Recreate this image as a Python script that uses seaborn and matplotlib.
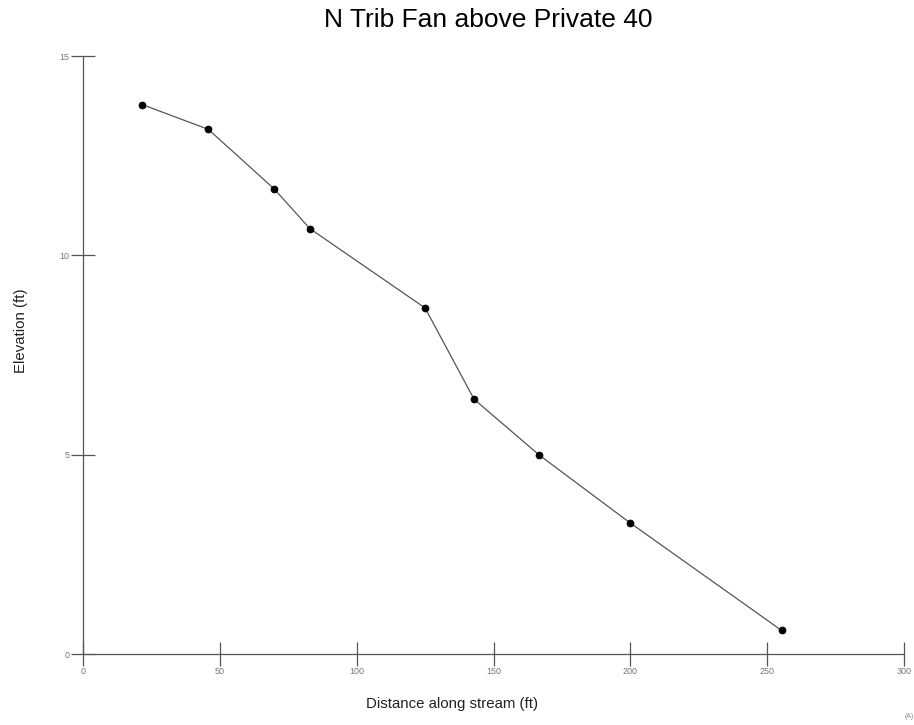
import matplotlib
matplotlib.use("Agg")
import matplotlib.pyplot as plt
import seaborn as sns
import pandas as pd

# Longitudinal profile of the tributary fan
distance_ft = [21.7, 45.8, 69.8, 82.9, 125.0, 142.9, 166.7, 199.9, 255.3]
elevation_ft = [13.78, 13.16, 11.67, 10.67, 8.68, 6.39, 4.99, 3.29, 0.59]
x_ticks = [0, 50, 100, 150, 200, 250, 300]
y_ticks = [0, 5, 10, 15]

sns.set_theme(style="white")
plt.rcParams["font.family"] = ["Liberation Sans", "DejaVu Sans"]

df = pd.DataFrame({"distance": distance_ft, "elevation": elevation_ft})

fig = plt.figure(figsize=(9.14, 7.25), dpi=100)
ax = fig.add_axes([83 / 914, 1 - 654 / 725, (904 - 83) / 914, (654 - 56) / 725])

sns.lineplot(data=df, x="distance", y="elevation", ax=ax, sort=False,
             color="#555555", linewidth=0.9, marker="o", markersize=4.8,
             markerfacecolor="black", markeredgecolor="black")

ax.set_xlim(0, 300)
ax.set_ylim(0, 15)
ax.set_xticks(x_ticks)
ax.set_yticks(y_ticks)
ax.set_xticklabels([str(v) for v in x_ticks])
ax.set_yticklabels([str(v) for v in y_ticks])

for side in ("top", "right"):
    ax.spines[side].set_visible(False)
for side in ("left", "bottom"):
    ax.spines[side].set_color("#555555")
    ax.spines[side].set_linewidth(0.9)
ax.spines["left"].set_bounds(0, 15)
ax.spines["bottom"].set_bounds(0, 300)

ax.tick_params(axis="both", direction="inout", length=17, width=0.9,
               color="#555555", labelsize=6.5, labelcolor="#777777", pad=1)
ax.tick_params(axis="x", bottom=True, top=False)
ax.tick_params(axis="y", left=True, right=False)

ax.set_xlabel("Distance along stream (ft)", fontsize=10.8, color="#222222")
ax.set_ylabel("Elevation (ft)", fontsize=10.8, color="#222222")
ax.xaxis.set_label_coords((452 - 83) / 821, (654 - 697) / 598)
ax.yaxis.set_label_coords((28 - 83) / 821, (654 - 331) / 598)

fig.text(488 / 914, 1 - 20 / 725, "N Trib Fan above Private 40",
         ha="center", va="center", fontsize=19, color="black")
fig.text(905 / 914, 1 - 717 / 725, "(A)", ha="left", va="center",
         fontsize=5, color="#888888")

fig.savefig("out.png", dpi=100)
